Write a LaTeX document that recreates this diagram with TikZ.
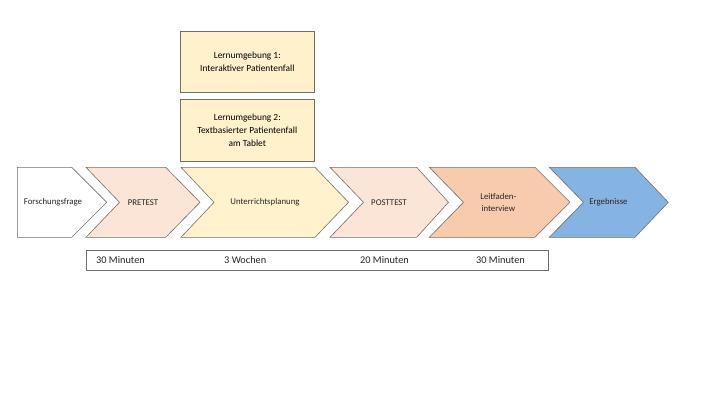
\documentclass[tikz,border=0pt]{standalone}
\usepackage{fontspec}
\setmainfont{Carlito}
\definecolor{peach}{HTML}{FBE5D6}
\definecolor{peachd}{HTML}{F8CBAD}
\definecolor{lyellow}{HTML}{FFF2CC}
\definecolor{byellow}{HTML}{FFF1CC}
\definecolor{lblue}{HTML}{86B4E2}
\definecolor{edgegray}{HTML}{6E6E6E}
\tikzset{
  chev/.style={draw=edgegray, line width=0.6pt, line join=miter},
  chevlabel/.style={font=\fontsize{8.8}{12}\selectfont, align=center, text=black!85, inner sep=0pt},
  infobox/.style={draw=edgegray, line width=0.6pt, fill=byellow, font=\fontsize{9.4}{12.8}\selectfont, align=center, inner sep=0pt},
  timetext/.style={font=\fontsize{10.3}{12}\selectfont, anchor=west, inner sep=0pt, text=black!85}
}
\begin{document}
\begin{tikzpicture}[x=1pt,y=-1pt]
\useasboundingbox (0,0) rectangle (720,405);
% chevrons
\draw[chev, fill=white] (17.3,167.3) -- (71.7,167.3) -- (106.7,202.3) -- (71.7,237.3) -- (17.3,237.3) -- cycle;
\node[chevlabel] (c1) at (53,202.3) {Forschungsfrage};
\draw[chev, fill=peach] (86,167.3) -- (165.7,167.3) -- (200,202.3) -- (165.7,237.3) -- (86,237.3) -- (119.5,202.3) -- cycle;
\node[chevlabel] (c2) at (143,202.3) {PRETEST};
\draw[chev, fill=lyellow] (181,167.3) -- (315,167.3) -- (348.5,202.3) -- (315,237.3) -- (181,237.3) -- (214,202.3) -- cycle;
\node[chevlabel] (c3) at (265,202.3) {Unterrichtsplanung};
\draw[chev, fill=peach] (330,167.3) -- (416.7,167.3) -- (448.5,202.3) -- (416.7,237.3) -- (330,237.3) -- (363.5,202.3) -- cycle;
\node[chevlabel] (c4) at (389,202.3) {POSTTEST};
\draw[chev, fill=peachd] (429.3,167.3) -- (535,167.3) -- (570,202.3) -- (535,237.3) -- (429.3,237.3) -- (463.5,202.3) -- cycle;
\node[chevlabel] (c5) at (498.3,202.3) {Leitfaden-\\interview};
\draw[chev, fill=lblue] (549.3,167.3) -- (635,167.3) -- (668.3,202.3) -- (635,237.3) -- (549.3,237.3) -- (583.5,202.3) -- cycle;
\node[chevlabel] (c6) at (608.5,202.3) {Ergebnisse};
% info boxes
\node[infobox, minimum width=133.3pt, minimum height=61.7pt] (b1) at (247.3,61.8) {Lernumgebung 1:\\Interaktiver Patientenfall};
\node[infobox, minimum width=133.3pt, minimum height=62.7pt] (b2) at (247.3,130.3) {Lernumgebung 2:\\Textbasierter Patientenfall\\am Tablet};
% timeline
\node[draw=edgegray, line width=0.6pt, fill=white, minimum width=462.3pt, minimum height=20pt, inner sep=0pt] (tl) at (317.2,260) {};
\node[timetext] (t1) at (96,260) {30 Minuten};
\node[timetext] (t2) at (224,260) {3 Wochen};
\node[timetext] (t3) at (360,260) {20 Minuten};
\node[timetext] (t4) at (476,260) {30 Minuten};
\end{tikzpicture}
\end{document}
